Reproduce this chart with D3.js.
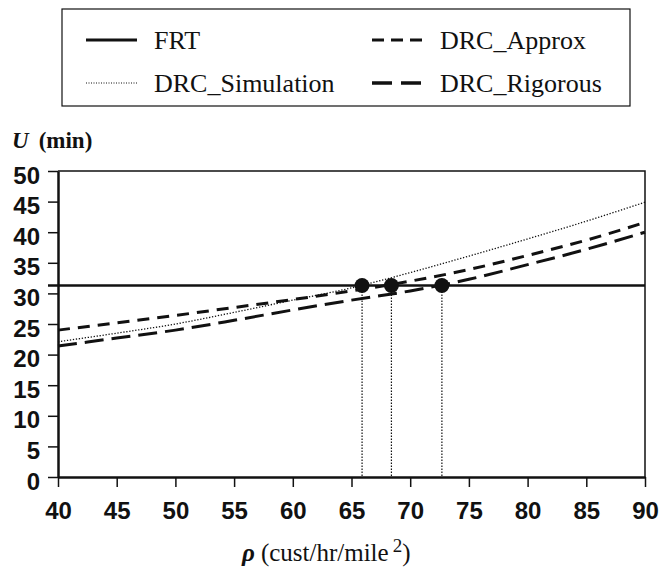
<!DOCTYPE html>
<html>
<head>
<meta charset="utf-8">
<script src="https://cdn.jsdelivr.net/npm/d3@7"></script>
<style>
  body { margin: 0; background: #fff; }
  svg { display: block; }
</style>
</head>
<body>
<div id="chart"></div>
<script>
var width = 659;
var height = 569;

// data
var rho = [40, 45, 50, 55, 60, 65, 70, 75, 80, 85, 90];
var frt = 31.3;
var drcSimulation = [22.1, 23.5, 25.0, 26.9, 28.9, 30.9, 33.4, 36.1, 38.9, 41.8, 44.9];
var drcApprox = [24.0, 25.2, 26.4, 27.7, 29.0, 30.4, 32.0, 33.9, 36.2, 38.7, 41.6];
var drcRigorous = [21.4, 22.7, 24.0, 25.6, 27.3, 28.9, 30.4, 32.3, 34.7, 37.2, 40.0];
var crossings = [65.9, 68.4, 72.7];
var xTicks = [40, 45, 50, 55, 60, 65, 70, 75, 80, 85, 90];
var yTicks = [0, 5, 10, 15, 20, 25, 30, 35, 40, 45, 50];

var margin = {left: 58, right: 645, top: 171, bottom: 477};

var x = d3.scaleLinear().domain([40, 90]).range([margin.left, margin.right]);
var y = d3.scaleLinear().domain([0, 50]).range([margin.bottom, margin.top]);

var svg = d3.select('#chart')
    .append('svg')
    .attr('width', width)
    .attr('height', height);

// top and right frame lines
svg.append('path')
    .attr('d', 'M' + x(40) + ',' + y(50) + 'H' + x(90) + 'V' + y(0))
    .attr('fill', 'none')
    .attr('stroke', '#111')
    .attr('stroke-width', 1.5);

// axes
var yAxis = svg.append('g')
    .attr('transform', 'translate(' + margin.left + ',0)')
    .call(d3.axisLeft(y).tickValues(yTicks).tickSize(10).tickSizeOuter(0).tickPadding(8));

var xAxis = svg.append('g')
    .attr('transform', 'translate(0,' + margin.bottom + ')')
    .call(d3.axisBottom(x).tickValues(xTicks).tickSize(10).tickSizeOuter(0).tickPadding(15));

svg.selectAll('.domain').attr('stroke', '#111').attr('stroke-width', 2.5);
svg.selectAll('.tick line').attr('stroke', '#111').attr('stroke-width', 1.5);
svg.selectAll('.tick text')
    .attr('fill', '#111')
    .style('font-family', 'Liberation Sans, Arial, sans-serif')
    .style('font-weight', 'bold')
    .style('font-size', '24px');
// y labels sit a little below their ticks in the original
yAxis.selectAll('.tick text').attr('dy', '0.5em');

// series lines
var line = d3.line()
    .x(function(d, i) { return x(rho[i]); })
    .y(function(d) { return y(d); })
    .curve(d3.curveMonotoneX);

svg.append('path')
    .datum(drcSimulation)
    .attr('d', line)
    .attr('fill', 'none')
    .attr('stroke', '#111')
    .attr('stroke-width', 1.3)
    .attr('stroke-dasharray', '1.3,1.7');

svg.append('path')
    .datum(drcApprox)
    .attr('d', line)
    .attr('fill', 'none')
    .attr('stroke', '#111')
    .attr('stroke-width', 3)
    .attr('stroke-dasharray', '12,8');

svg.append('path')
    .datum(drcRigorous)
    .attr('d', line)
    .attr('fill', 'none')
    .attr('stroke', '#111')
    .attr('stroke-width', 3)
    .attr('stroke-dasharray', '19,8');

// FRT flat line
svg.append('line')
    .attr('x1', x(40) - 10)
    .attr('x2', x(90))
    .attr('y1', y(frt))
    .attr('y2', y(frt))
    .attr('stroke', '#111')
    .attr('stroke-width', 2.5);

// drop lines and dots at the crossings
svg.selectAll('.drop')
    .data(crossings)
    .enter().append('line')
    .attr('class', 'drop')
    .attr('x1', function(d) { return x(d); })
    .attr('x2', function(d) { return x(d); })
    .attr('y1', y(frt))
    .attr('y2', y(0))
    .attr('stroke', '#111')
    .attr('stroke-width', 1.2)
    .attr('stroke-dasharray', '1.5,1.5');

svg.selectAll('.dot')
    .data(crossings)
    .enter().append('circle')
    .attr('class', 'dot')
    .attr('cx', function(d) { return x(d); })
    .attr('cy', y(frt))
    .attr('r', 7.5)
    .attr('fill', '#111');

// axis titles
var yTitle = svg.append('text')
    .attr('x', 12)
    .attr('y', 148)
    .attr('fill', '#111')
    .style('font-family', 'Liberation Serif, Times New Roman, serif')
    .style('font-weight', 'bold')
    .style('font-size', '23px');
yTitle.append('tspan').style('font-style', 'italic').text('U');
yTitle.append('tspan').attr('dx', 10).text('(min)');

var xTitle = svg.append('text')
    .attr('x', 242)
    .attr('y', 561)
    .attr('fill', '#111')
    .style('font-family', 'Liberation Serif, Times New Roman, serif')
    .style('font-size', '25px');
xTitle.append('tspan').style('font-weight', 'bold').style('font-style', 'italic').text('ρ');
xTitle.append('tspan').attr('dx', 6).text('(cust/hr/mile');
xTitle.append('tspan').attr('dx', 4).attr('dy', -9).style('font-size', '19px').text('2');
xTitle.append('tspan').attr('dy', 9).text(')');

// legend
var legendItems = [
    {name: 'FRT', dash: null, w: 3, lx: 86, ly: 40},
    {name: 'DRC_Approx', dash: '12,7', w: 3, lx: 372, ly: 40},
    {name: 'DRC_Simulation', dash: '1,1.5', w: 1, lx: 86, ly: 83},
    {name: 'DRC_Rigorous', dash: '20,9', w: 3.5, lx: 372, ly: 83}
];

svg.append('rect')
    .attr('x', 62)
    .attr('y', 9)
    .attr('width', 568)
    .attr('height', 97)
    .attr('fill', 'none')
    .attr('stroke', '#111')
    .attr('stroke-width', 1.2);

var legend = svg.selectAll('.legend')
    .data(legendItems)
    .enter().append('g')
    .attr('class', 'legend');

legend.append('line')
    .attr('x1', function(d) { return d.lx; })
    .attr('x2', function(d) { return d.lx + 51; })
    .attr('y1', function(d) { return d.ly; })
    .attr('y2', function(d) { return d.ly; })
    .attr('stroke', '#111')
    .attr('stroke-width', function(d) { return d.w; })
    .attr('stroke-dasharray', function(d) { return d.dash; });

legend.append('text')
    .attr('x', function(d) { return d.lx + 68; })
    .attr('y', function(d) { return d.ly + 9; })
    .attr('fill', '#111')
    .style('font-family', 'Liberation Serif, Times New Roman, serif')
    .style('font-size', '26px')
    .text(function(d) { return d.name; });
</script>
</body>
</html>
